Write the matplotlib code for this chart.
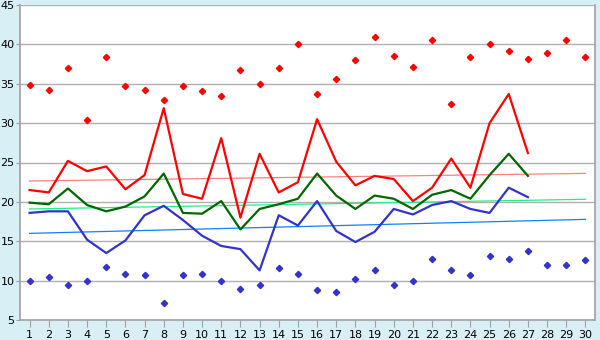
import numpy as np
import matplotlib.pyplot as plt

days = np.arange(1, 31)

# daily extremes (points)
max_pts = [34.9, 34.2, 37.0, 30.4, 38.4, 34.7, 34.2, 33.0, 34.7, 34.1,
           33.5, 36.7, 35.0, 37.0, 40.0, 33.7, 35.6, 38.0, 41.0, 38.5,
           37.1, 40.5, 32.4, 38.4, 40.1, 39.2, 38.2, 38.9, 40.6, 38.4]
min_pts = [10.0, 10.5, 9.5, 10.0, 11.7, 10.8, 10.7, 7.2, 10.7, 10.8,
           10.0, 8.9, 9.4, 11.6, 10.8, 8.8, 8.6, 10.2, 11.4, 9.5,
           10.0, 12.8, 11.3, 10.7, 13.1, 12.8, 13.7, 12.0, 12.0, 12.6]

# current month lines (days 1..27)
red_line = [21.5, 21.2, 25.2, 23.9, 24.5, 21.6, 23.4, 31.9, 21.0, 20.4,
            28.1, 18.0, 26.1, 21.2, 22.5, 30.5, 25.1, 22.1, 23.3, 22.9,
            20.1, 21.8, 25.5, 21.8, 30.0, 33.7, 26.2]
green_line = [19.9, 19.7, 21.7, 19.6, 18.8, 19.4, 20.7, 23.6, 18.6, 18.5,
              20.1, 16.5, 19.1, 19.7, 20.4, 23.6, 20.8, 19.1, 20.8, 20.4,
              19.1, 20.9, 21.5, 20.4, 23.4, 26.1, 23.3]
blue_line = [18.6, 18.8, 18.8, 15.2, 13.5, 15.1, 18.3, 19.5, 17.7, 15.7,
             14.4, 14.0, 11.3, 18.3, 17.0, 20.1, 16.3, 14.9, 16.2, 19.1,
             18.4, 19.6, 20.1, 19.1, 18.6, 21.8, 20.6]

# trend lines: value at day 1 and day 30
red_trend = [22.65, 23.62]
green_trend = [19.1, 20.33]
blue_trend = [16.0, 17.78]

fig = plt.figure(figsize=(6, 3.4), dpi=100)
fig.patch.set_facecolor('#d9eff6')
ax = fig.add_axes([20 / 600, 20 / 340, 575 / 600, 315 / 340])
ax.set_facecolor('white')

for v in range(10, 46, 5):
    ax.axhline(v, color='#b0b0b0', lw=1.0, zorder=1)

ends = [1, 30]
ax.plot(ends, red_trend, color='#ff8080', lw=0.9, zorder=2)
ax.plot(ends, green_trend, color='#22ee88', lw=0.9, zorder=2)
ax.plot(ends, blue_trend, color='#1080ff', lw=0.9, zorder=2)

line_days = days[:len(red_line)]
ax.plot(line_days, red_line, color='#ff0000', lw=1.6, zorder=3)
ax.plot(line_days, green_line, color='#006600', lw=1.6, zorder=3)
ax.plot(line_days, blue_line, color='#3333cc', lw=1.6, zorder=3)

ax.plot(days, max_pts, ls='none', marker='D', ms=3.2, color='#ff0000', zorder=4)
ax.plot(days, min_pts, ls='none', marker='D', ms=3.2, color='#3333cc', zorder=4)

ax.set_xlim(0.5, 30.5)
ax.set_ylim(5, 45)
ax.set_xticks(days)
ax.set_yticks(range(5, 46, 5))
ax.tick_params(axis='x', length=5, color='#a0a0a0', labelsize=8, pad=2)
ax.tick_params(axis='y', length=3, color='#a0a0a0', labelsize=8, pad=1)

for side in ['left', 'bottom', 'right']:
    ax.spines[side].set_color('#a0a0a0')
    ax.spines[side].set_linewidth(1.2)
ax.spines['top'].set_visible(False)

fig.savefig('out.png', dpi=100, facecolor=fig.get_facecolor())
